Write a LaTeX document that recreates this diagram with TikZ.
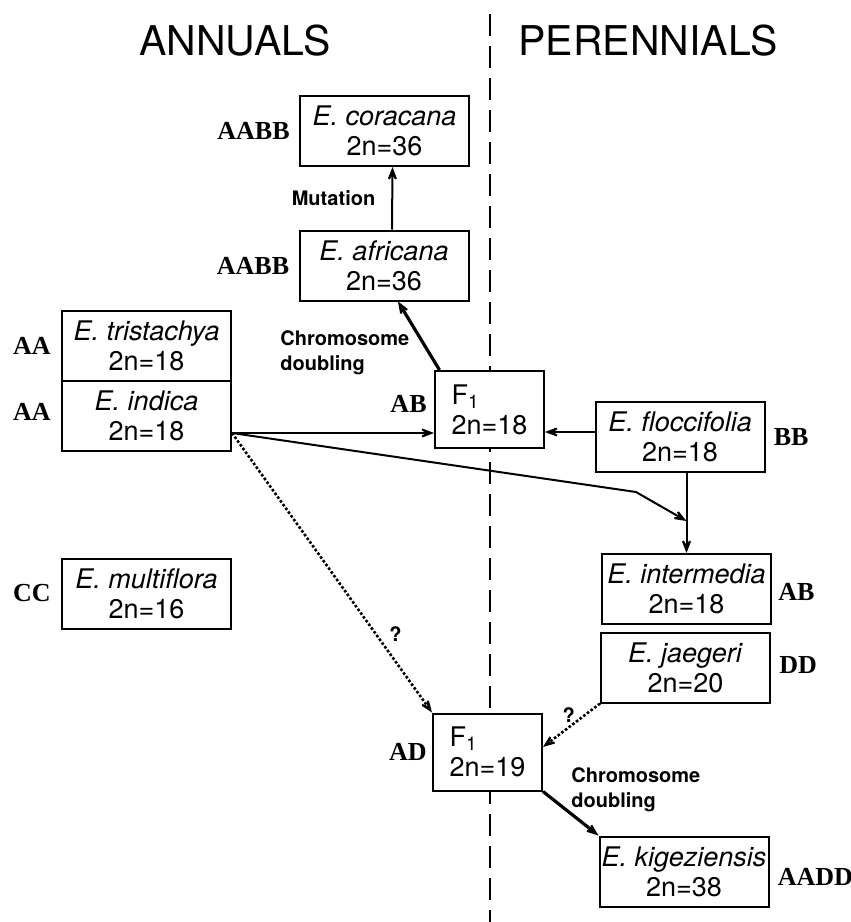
\documentclass[tikz,border=0pt]{standalone}
\usepackage{fontspec}
\setmainfont{Liberation Serif}
\setsansfont{TeX Gyre Heros}
\usepackage{tikz}
\usetikzlibrary{arrows.meta,positioning,calc}

\begin{document}
\begin{tikzpicture}[x=0.5pt,y=-0.5pt,
			especie/.style={draw,fill=white,line width=1pt,minimum width=84.5pt,minimum height=35pt,align=center,
				inner xsep=1pt,inner ysep=2pt,font=\fontsize{13.5}{15}\selectfont\sffamily},
			hibrido/.style={especie,minimum width=54.5pt,minimum height=38.5pt,align=left,text width=38pt},
			genoma/.style={font=\fontsize{13}{15}\selectfont\rmfamily\bfseries,inner sep=0pt},
			nota/.style={font=\fontsize{10}{12.5}\selectfont\sffamily\bfseries,align=left,inner sep=0pt},
			titulo/.style={font=\fontsize{20.5}{24}\selectfont\sffamily},
			flecha/.style={line width=1pt,-{Stealth[length=11pt,width=8.5pt,inset=7pt]}},
			duplica/.style={flecha,line width=1.6pt},
			dudosa/.style={flecha,line width=1.3pt,densely dotted}
			]
			\useasboundingbox (0,0) rectangle (851,922);
			\node[titulo] (anu) at (235,41) {ANNUALS};
			\node[titulo] (per) at (648,41) {PERENNIALS};
			\draw[line width=1pt,dash pattern=on 11pt off 5pt] (490,14) -- (490,922);

			\node[especie] (cor) at (384.5,131) {\textit{E. coracana}\\2n=36};
			\node[especie] (afr) at (384,265.5) {\textit{E. africana}\\2n=36};
			\node[especie] (tri) at (146.5,345.5) {\textit{E. tristachya}\\2n=18};
			\node[especie] (ind) [below=-1pt of tri] {\textit{E. indica}\\2n=18};
			\node[especie] (mul) at (146.5,593.5) {\textit{E. multiflora}\\2n=16};
			\node[hibrido] (hab) at (489.5,409.5) {F\textsubscript{1}\\2n=18};
			\node[hibrido] (had) at (487.5,752) {F\textsubscript{1}\\2n=19};
			\node[especie] (flo) at (680,437) {\textit{E. floccifolia}\\2n=18};
			\node[especie] (inte) at (686.5,589) {\textit{E. intermedia}\\2n=18};
			\node[especie] (jae) at (685.5,667.5) {\textit{E. jaegeri}\\2n=20};
			\node[especie] (kig) at (684,871.5) {\textit{E. kigeziensis}\\2n=38};

			\node[genoma,left=4.5pt of cor] (gcor) {AABB};
			\node[genoma,left=4.5pt of afr] (gafr) {AABB};
			\node[genoma,left=5pt of tri] (gtri) {AA};
			\node[genoma,left=5pt of ind,yshift=2pt] (gind) {AA};
			\node[genoma,left=5pt of mul] (gmul) {CC};
			\node[genoma,left=3.5pt of hab,yshift=3pt] (ghab) {AB};
			\node[genoma,left=2.5pt of had] (ghad) {AD};
			\node[genoma,right=4pt of flo] (gflo) {BB};
			\node[genoma,right=3pt of inte,yshift=-1.5pt] (ginte) {AB};
			\node[genoma,right=4pt of jae,yshift=1pt] (gjae) {DD};
			\node[genoma,right=4pt of kig,yshift=-2.5pt] (gkig) {AADD};

			\draw[flecha] ([xshift=4pt]afr.north) -- ([xshift=4pt]cor.south)
			node[nota,midway,left=8pt] (mut) {Mutation};
			\draw[duplica] ([xshift=-25pt]hab.north) -- ([xshift=7pt]afr.south);
			\node[nota,anchor=west] (cd1) at (280,352.5) {Chromosome\\doubling};
			\draw[flecha] ([yshift=-8.75pt]ind.east) -- ([yshift=-8.75pt]ind.east -| hab.west);
			\draw[flecha] ([yshift=2.5pt]flo.west) -- ([yshift=2.5pt]flo.west -| hab.east);
			\draw[flecha] (inte.north |- flo.south) -- (inte.north);
			\coordinate (codo) at (636,492);
			\coordinate (cruce) at ($(inte.north |- flo.south)!0.6!(inte.north)$);
			\draw[flecha] ([yshift=-8.75pt]ind.east) -- (codo) -- (cruce);
			\draw[dudosa] ([yshift=-8.75pt]ind.east) -- (had.north west)
			node[nota,pos=0.72,right=6pt] (q1) {?};
			\draw[dudosa] (jae.south west) -- ([yshift=2.5pt]had.east)
			node[nota,pos=0.55,above=2pt] (q2) {?};
			\draw[duplica] (had.south east) -- (kig.north west);
			\node[nota,anchor=west] (cd2) at (571,790) {Chromosome\\doubling};
		\end{tikzpicture}
\end{document}
